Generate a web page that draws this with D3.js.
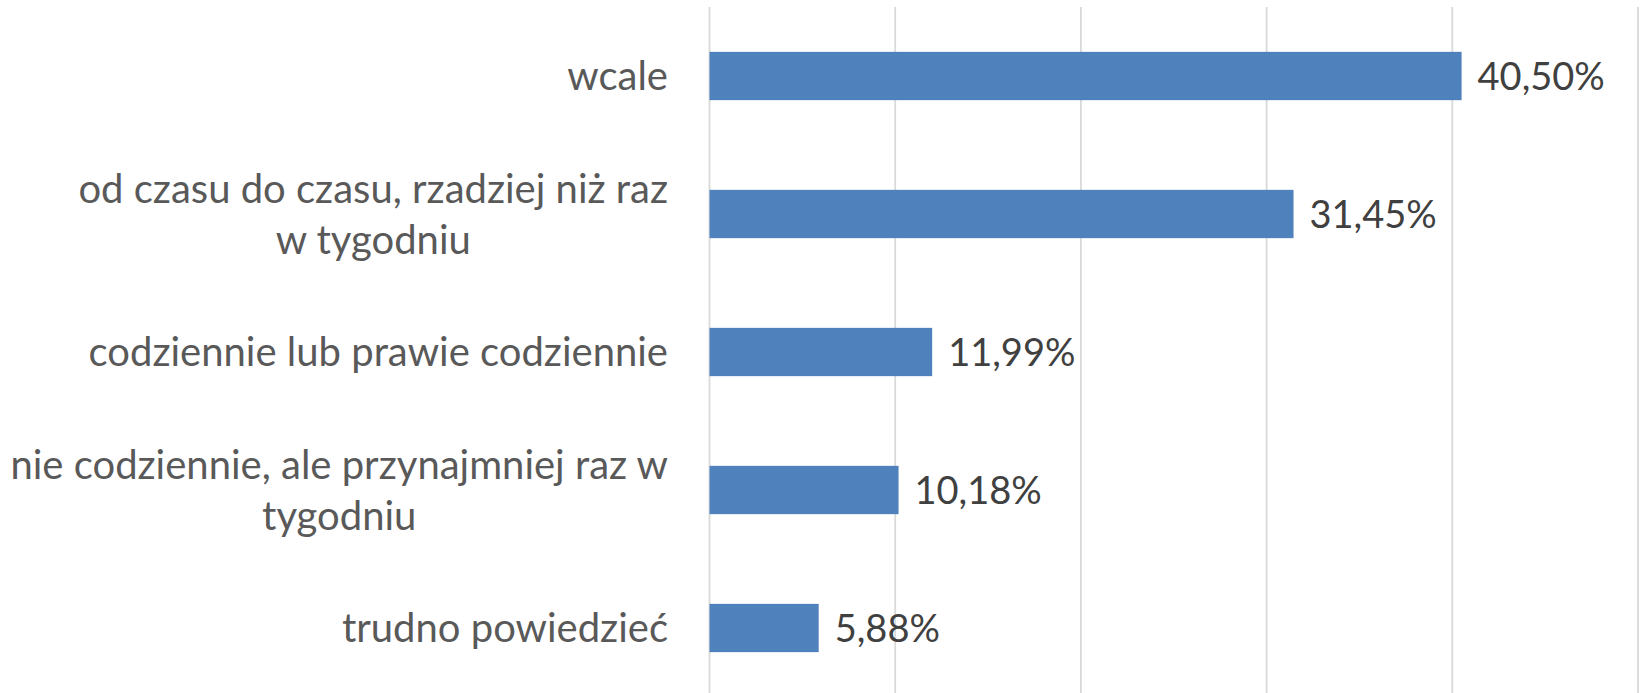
<!DOCTYPE html>
<html>
<head>
<meta charset="utf-8">
<script src="https://cdn.jsdelivr.net/npm/d3@7"></script>
<style>
  body { margin: 0; background: #fff; }
  text { font-family: Lato, "Open Sans", sans-serif; }
</style>
</head>
<body>
<script>
// categories top to bottom, line breaks as in the original chart
let categories = [
  "wcale",
  "od czasu do czasu, rzadziej niż raz\nw tygodniu",
  "codziennie lub prawie codziennie",
  "nie codziennie, ale przynajmniej raz w\ntygodniu",
  "trudno powiedzieć"
];
let values = [40.50, 31.45, 11.99, 10.18, 5.88];
let gridTicks = [0, 10, 20, 30, 40, 50];

let width = 1640,
    height = 693;

let svg = d3.select("body")
  .append("svg")
  .attr("width", width)
  .attr("height", height);

let x = d3.scaleLinear()
  .domain([0, 50])
  .range([709.5, 1638]);

let y = d3.scaleBand()
  .domain(categories)
  .range([7, 697])
  .paddingInner(0.65)
  .paddingOuter(0.325);

// vertical gridlines
svg.append("g").selectAll("line")
  .data(gridTicks)
  .enter()
  .append("line")
  .attr("x1", d => x(d))
  .attr("x2", d => x(d))
  .attr("y1", 7)
  .attr("y2", height)
  .attr("stroke", "#d9d9d9")
  .attr("stroke-width", 1.8);

// bars
svg.append("g").selectAll("rect")
  .data(values)
  .enter()
  .append("rect")
  .attr("x", x(0))
  .attr("y", (d, i) => y(categories[i]))
  .attr("width", d => x(d) - x(0))
  .attr("height", y.bandwidth())
  .attr("fill", "#4f81bd");

// data labels
svg.append("g").selectAll("text")
  .data(values)
  .enter()
  .append("text")
  .attr("x", d => x(d) + 16)
  .attr("y", (d, i) => y(categories[i]) + y.bandwidth() / 2)
  .attr("dy", "0.36em")
  .attr("font-size", 38)
  .attr("fill", "#404040")
  .text(d => d.toFixed(2).replace(".", ",") + "%");

// category labels
let lineH = 51;
let labels = svg.append("g").selectAll("text")
  .data(categories)
  .enter()
  .append("text")
  .attr("text-anchor", "middle")
  .attr("font-size", 40)
  .attr("fill", "#595959");

labels.each(function(d) {
  let lines = d.split("\n");
  let cy = y(d) + y.bandwidth() / 2;
  let t = d3.select(this);
  lines.forEach(function(l, j) {
    t.append("tspan")
      .attr("y", cy + (j - (lines.length - 1) / 2) * lineH)
      .attr("dy", "0.36em")
      .text(l);
  });
  // right-align the block, lines centred inside it
  let w = 0;
  t.selectAll("tspan").each(function() {
    w = Math.max(w, this.getComputedTextLength());
  });
  t.selectAll("tspan").attr("x", 668 - w / 2);
});
</script>
</body>
</html>
